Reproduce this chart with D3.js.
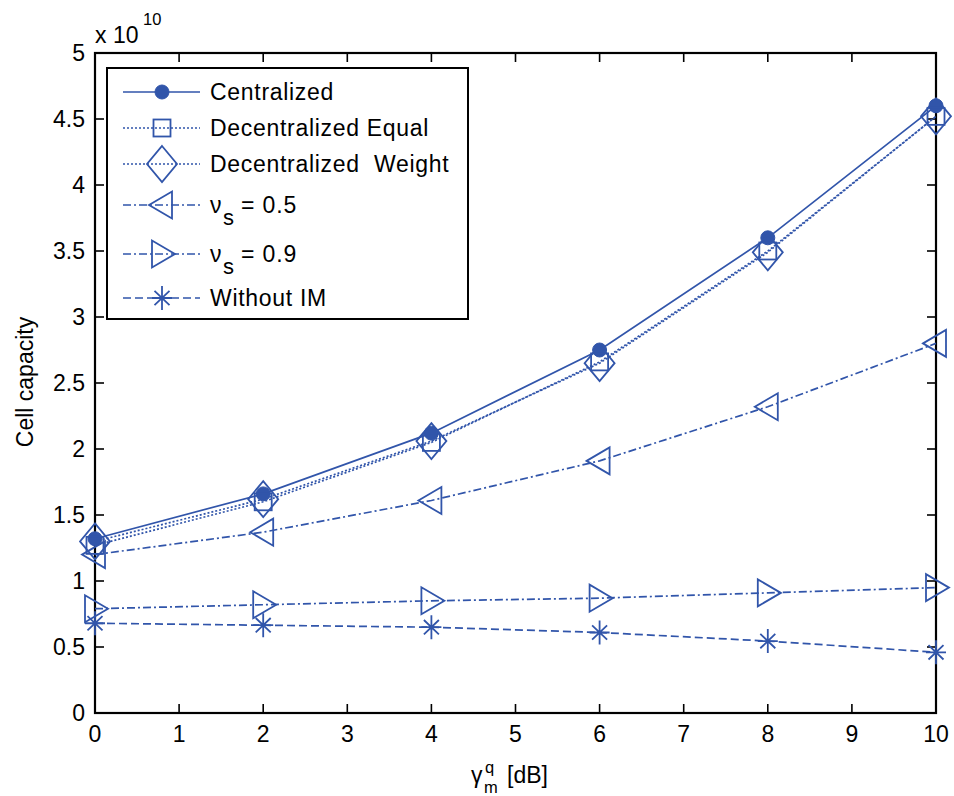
<!DOCTYPE html>
<html><head><meta charset="utf-8">
<script src="https://cdn.jsdelivr.net/npm/d3@7"></script>
<style>body{margin:0;background:#fff}svg{display:block}text{font-family:"Liberation Sans",Arial,sans-serif;fill:#000}</style>
</head><body>
<script>
const xValues = [0, 2, 4, 6, 8, 10];
const centralized = [1.32, 1.66, 2.12, 2.75, 3.60, 4.60];
const decEqual = [1.27, 1.60, 2.05, 2.66, 3.50, 4.52];
const decWeight = [1.30, 1.62, 2.06, 2.65, 3.49, 4.52];
const nu05 = [1.20, 1.37, 1.61, 1.91, 2.32, 2.80];
const nu09 = [0.79, 0.82, 0.85, 0.87, 0.91, 0.95];
const withoutIM = [0.68, 0.665, 0.65, 0.61, 0.545, 0.46];
const xTicks = [0,1,2,3,4,5,6,7,8,9,10];
const yTicks = [0,0.5,1,1.5,2,2.5,3,3.5,4,4.5,5];
const seriesNames = ["Centralized","Decentralized Equal","Decentralized  Weight","νs = 0.5","νs = 0.9","Without IM"];

const W=954,H=796, color="#3155aa";
const m={l:95,r:936,t:53,b:713};
const svg=d3.select("body").append("svg").attr("width",W).attr("height",H);
const x=d3.scaleLinear().domain([0,10]).range([m.l,m.r]);
const y=d3.scaleLinear().domain([0,5]).range([m.b,m.t]);

const series=[
 {name:seriesNames[0],vals:centralized,dash:null,marker:"circle"},
 {name:seriesNames[1],vals:decEqual,dash:"2,2",marker:"square"},
 {name:seriesNames[2],vals:decWeight,dash:"2,2",marker:"diamond"},
 {name:seriesNames[3],vals:nu05,dash:"8,3,2,3",marker:"left"},
 {name:seriesNames[4],vals:nu09,dash:"8,3,2,3",marker:"right"},
 {name:seriesNames[5],vals:withoutIM,dash:"8,4",marker:"star"}
];

function drawMarker(g,type,cx,cy){
  const s=g.append("g").attr("transform",`translate(${cx},${cy})`);
  const st={fill:"none",stroke:color,"stroke-width":1.8};
  function ap(el){for(const k in st) el.attr(k,st[k]); return el;}
  if(type==="circle") s.append("circle").attr("r",7).attr("fill",color).attr("stroke",color);
  else if(type==="square") ap(s.append("rect").attr("x",-8.5).attr("y",-8.5).attr("width",17).attr("height",17));
  else if(type==="diamond") ap(s.append("path").attr("d","M0,-18L15,0L0,18L-15,0Z"));
  else if(type==="left") ap(s.append("path").attr("d","M-13,0L10,-13.5L10,13.5Z"));
  else if(type==="right") ap(s.append("path").attr("d","M13,0L-10,-13.5L-10,13.5Z"));
  else if(type==="star"){
    const rx=10, ry=12; const d=[];
    d.push(`M${-rx},0L${rx},0`, `M0,${-ry}L0,${ry}`);
    const k=0.75;
    d.push(`M${-rx*k},${-ry*k*0.8}L${rx*k},${ry*k*0.8}`, `M${-rx*k},${ry*k*0.8}L${rx*k},${-ry*k*0.8}`);
    ap(s.append("path").attr("d",d.join("")));
  }
}

// axes box
const ax=svg.append("g");
ax.append("rect").attr("x",m.l).attr("y",m.t).attr("width",m.r-m.l).attr("height",m.b-m.t).attr("fill","none").attr("stroke","#000").attr("stroke-width",2.2);
const tl=9;
xTicks.forEach(t=>{
  ax.append("line").attr("x1",x(t)).attr("x2",x(t)).attr("y1",m.b).attr("y2",m.b-tl).attr("stroke","#000").attr("stroke-width",1.6);
  ax.append("line").attr("x1",x(t)).attr("x2",x(t)).attr("y1",m.t).attr("y2",m.t+tl).attr("stroke","#000").attr("stroke-width",1.6);
  ax.append("text").attr("x",x(t)).attr("y",m.b+29).attr("text-anchor","middle").attr("font-size",23).text(t);
});
yTicks.forEach(t=>{
  ax.append("line").attr("x1",m.l).attr("x2",m.l+tl).attr("y1",y(t)).attr("y2",y(t)).attr("stroke","#000").attr("stroke-width",1.6);
  ax.append("line").attr("x1",m.r).attr("x2",m.r-tl).attr("y1",y(t)).attr("y2",y(t)).attr("stroke","#000").attr("stroke-width",1.6);
  ax.append("text").attr("x",m.l-10).attr("y",y(t)+8).attr("text-anchor","end").attr("font-size",23).text(t);
});
// exponent
svg.append("text").attr("x",95).attr("y",43).attr("font-size",23).text("x 10");
svg.append("text").attr("x",143).attr("y",25).attr("font-size",16.5).text("10");

// labels
svg.append("text").attr("transform",`translate(33,382) rotate(-90)`).attr("text-anchor","middle").attr("font-size",23).text("Cell capacity");
svg.append("text").attr("x",471).attr("y",783).attr("font-size",23).text("γ");
svg.append("text").attr("x",484).attr("y",793).attr("font-size",16.5).text("m");
svg.append("text").attr("x",485).attr("y",773).attr("font-size",16.5).text("q");
svg.append("text").attr("x",507).attr("y",783).attr("font-size",23).text("[dB]");

// lines
const line=d3.line().x((d,i)=>x(xValues[i])).y(d=>y(d));
series.forEach(s=>{
  svg.append("path").datum(s.vals).attr("d",line).attr("fill","none").attr("stroke",color).attr("stroke-width",1.7).attr("stroke-dasharray",s.dash);
});
series.forEach(s=>{
  s.vals.forEach((v,i)=>drawMarker(svg,s.marker,x(xValues[i]),y(v)));
});

// legend
const lg=svg.append("g");
lg.append("rect").attr("x",107).attr("y",68).attr("width",361).attr("height",251).attr("fill","#fff").attr("stroke","#000").attr("stroke-width",2);
const rowY=[92,128,164,205,254,298];
series.forEach((s,i)=>{
  const yy=rowY[i];
  lg.append("line").attr("x1",123).attr("x2",200).attr("y1",yy).attr("y2",yy).attr("stroke",color).attr("stroke-width",1.7).attr("stroke-dasharray",s.dash);
  drawMarker(lg,s.marker,162,yy);
  if(i===3||i===4){
    lg.append("text").attr("x",210).attr("y",yy+8).attr("font-size",23).text("ν");
    lg.append("text").attr("x",223).attr("y",yy+20).attr("font-size",22).text("s");
    lg.append("text").attr("x",241).attr("y",yy+8).attr("font-size",23).attr("letter-spacing",0.9).text(i===3?"= 0.5":"= 0.9");
  } else {
    lg.append("text").attr("x",210).attr("y",yy+8).attr("font-size",23).attr("letter-spacing",0.7).style("white-space","pre").text(s.name);
  }
});
</script>
</body></html>
